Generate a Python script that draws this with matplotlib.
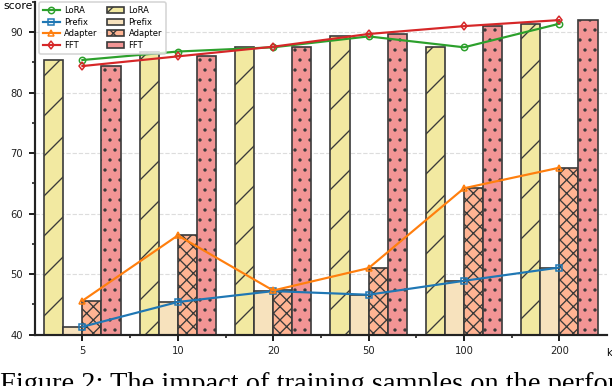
import numpy as np
import matplotlib
matplotlib.use('Agg')
import matplotlib.pyplot as plt
from matplotlib.ticker import MultipleLocator, FixedLocator

# values (score vs number of training samples k)
ks = ['5', '10', '20', '50', '100', '200']
lora = [85.4, 86.8, 87.5, 89.3, 87.5, 91.4]
prefix = [41.3, 45.4, 47.2, 46.6, 48.9, 51.1]
adapter = [45.6, 56.4, 47.3, 51.0, 64.2, 67.6]
fft = [84.4, 86.0, 87.6, 89.7, 91.0, 92.0]

methods = ['LoRA', 'Prefix', 'Adapter', 'FFT']
series = [lora, prefix, adapter, fft]
line_cols = ['#2ca02c', '#1f77b4', '#ff7f0e', '#d62728']
markers = ['o', 's', '^', 'd']
bar_cols = ['#f2e9a1', '#f7e2bd', '#ffb493', '#f29595']
hatches = ['/', '', 'xxx', '..']

plt.rcParams['hatch.linewidth'] = 0.8

fig = plt.figure(figsize=(5.1, 386 / 120), dpi=120)
ax = fig.add_axes([0.0567, 0.133, 0.9353, 0.862])

x = np.arange(len(ks))
w = 0.2
bar_h = []
for i, (vals, c, h) in enumerate(zip(series, bar_cols, hatches)):
    b = ax.bar(x + (i - 1.5) * w, vals, w, color=c, hatch=h,
               edgecolor='#3a3a3a', linewidth=1.0, zorder=2, label=methods[i])
    bar_h.append(b)

line_h = []
for vals, c, m, nm in zip(series, line_cols, markers, methods):
    l, = ax.plot(x, vals, color=c, lw=1.3, marker=m, ms=3.8, mfc='none',
                 mec=c, mew=0.9, zorder=4, label=nm)
    line_h.append(l)

ax.set_xlim(-0.5, 5.5)
ax.set_ylim(40, 95)
ax.set_xticks(x)
ax.set_xticklabels(ks)
ax.xaxis.set_minor_locator(FixedLocator(x[:-1] + 0.5))
ax.set_yticks([40, 50, 60, 70, 80, 90])
ax.yaxis.set_minor_locator(MultipleLocator(5))
ax.tick_params(axis='both', which='major', labelsize=6, length=3.5, width=1.2, colors='#222222')
ax.tick_params(axis='both', which='minor', length=2, width=1.0, colors='#222222')
ax.grid(axis='y', which='major', ls='--', color='#dddddd', lw=0.7, zorder=0)
ax.set_axisbelow(True)
for s in ['top', 'right']:
    ax.spines[s].set_visible(False)
for s in ['left', 'bottom']:
    ax.spines[s].set_linewidth(1.3)
    ax.spines[s].set_color('#222222')

fig.text(0.005, 0.985, 'score', fontsize=6.5, ha='left', va='center')
fig.text(0.999, 0.085, 'k', fontsize=6, ha='right', va='center')

ax.legend(line_h + bar_h, methods + methods, ncol=2, loc='upper left',
          bbox_to_anchor=(0.0, 1.012), fontsize=5, frameon=True,
          edgecolor='#cccccc', handlelength=2.1, columnspacing=1.1,
          labelspacing=0.32, borderpad=0.45, handletextpad=0.5)

# figure caption, cut off at the bottom edge as in the reference
fig.text(0.0, -0.013, 'Figure 2: The impact of training samples on the perfor',
         fontsize=17, family='Liberation Serif', ha='left', va='baseline')

fig.savefig('out.png', dpi=120)
